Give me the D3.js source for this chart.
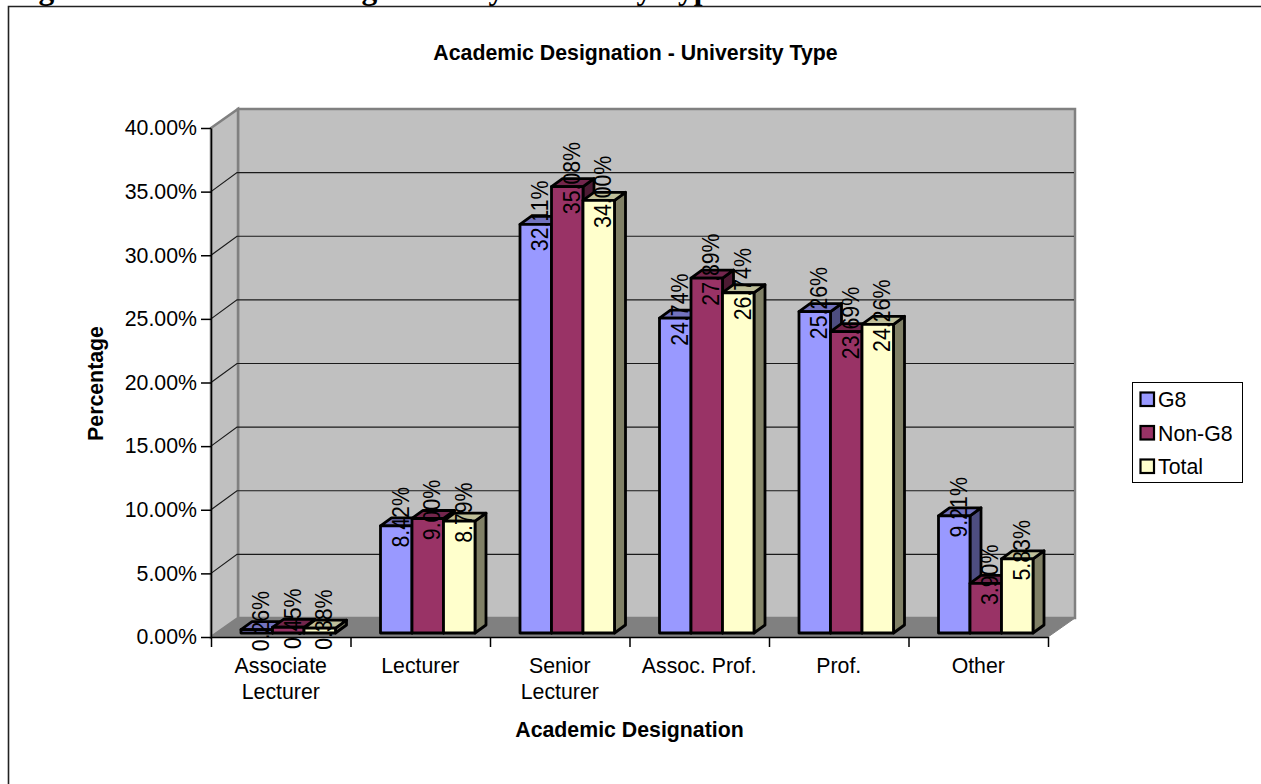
<!DOCTYPE html>
<html>
  <head>
    <title></title>
    <meta charset="UTF-8" />
    <script src="https://cdn.jsdelivr.net/npm/d3@7"></script>
    <style>
      html, body { margin: 0; background: #fff; overflow: hidden; }
      svg { display: block; }
    </style>
  </head>
  <body>
    <svg></svg>
    <script>
      // 1. data
      const categories = ['Associate Lecturer', 'Lecturer', 'Senior Lecturer', 'Assoc. Prof.', 'Prof.', 'Other']
      const series = ['G8', 'Non-G8', 'Total']
      const g8 = [0.26, 8.42, 32.11, 24.74, 25.26, 9.21]
      const nonG8 = [0.45, 9.0, 35.08, 27.89, 23.69, 3.9]
      const total = [0.38, 8.79, 34.0, 26.74, 24.26, 5.83]
      const yTicks = [0, 5, 10, 15, 20, 25, 30, 35, 40]
      const colors = ['#9999ff', '#993366', '#ffffcc']

      // 2. layout
      const width = 1261
      const height = 784
      const plotLeft = 211
      const plotRight = 1048
      const plotTop = 128
      const plotBottom = 637
      const wall = { dx: 27, dy: -19 } // depth of the chart box
      const bar = { dx: 11, dy: -8, inset: 30, group: 94.5, lift: 4 }
      const font = '"Liberation Sans", Arial, sans-serif'
      const fontSize = 21.3

      const svg = d3
        .select('svg')
        .attr('width', width)
        .attr('height', height)
        .attr('viewBox', [0, 0, width, height])
        .style('font-family', font)

      const x = d3.scaleBand(categories, [plotLeft, plotRight])
      const xEdge = d3.scaleLinear([0, categories.length], [plotLeft, plotRight])
      const xBar = d3.scaleBand(series, [0, bar.group])
      const y = d3.scaleLinear([0, 40], [plotBottom, plotTop])
      const line = d3.line()
      const poly = (pts) => line(pts) + 'Z'

      // 3. page furniture: cut-off caption above the chart + chart frame
      // only the descenders show in the reference, the figure number is a guess
      svg
        .append('text')
        .attr('x', 10.5)
        .attr('y', -1.5)
        .attr('font-family', '"Liberation Serif", "Times New Roman", serif')
        .attr('font-weight', 'bold')
        .attr('font-size', 31.5)
        .text('Figure 5.1: Academic Designation by University Type')

      svg
        .append('path')
        .attr('d', `M${width},6.5H8.5V${height}`)
        .attr('fill', 'none')
        .attr('stroke', '#222')
        .attr('stroke-width', 1.6)

      // 4. walls + floor
      const box = svg.append('g')
      box
        .append('path') // back wall
        .attr('d', poly([
          [plotLeft + wall.dx, plotTop + wall.dy],
          [plotRight + wall.dx, plotTop + wall.dy],
          [plotRight + wall.dx, plotBottom + wall.dy],
          [plotLeft + wall.dx, plotBottom + wall.dy],
        ]))
        .attr('fill', '#c0c0c0')
        .attr('stroke', '#808080')
        .attr('stroke-width', 2.5)
      box
        .append('path') // side wall
        .attr('d', poly([
          [plotLeft, plotTop],
          [plotLeft + wall.dx, plotTop + wall.dy],
          [plotLeft + wall.dx, plotBottom + wall.dy],
          [plotLeft, plotBottom],
        ]))
        .attr('fill', '#c0c0c0')
        .attr('stroke', '#808080')
        .attr('stroke-width', 2.5)
      box
        .append('path') // floor
        .attr('d', poly([
          [plotLeft, plotBottom],
          [plotLeft + wall.dx, plotBottom + wall.dy],
          [plotRight + wall.dx, plotBottom + wall.dy],
          [plotRight, plotBottom],
        ]))
        .attr('fill', '#808080')
        .attr('stroke', '#808080')

      // gridlines run along the side wall then the back wall
      box
        .append('g')
        .selectAll('path')
        .data(yTicks.filter((d) => d > 0 && d < 40))
        .join('path')
        .attr('d', (d) => line([
          [plotLeft, y(d)],
          [plotLeft + wall.dx - 1, y(d) + wall.dy],
          [plotRight + wall.dx - 1, y(d) + wall.dy],
        ]))
        .attr('fill', 'none')
        .attr('stroke', '#1a1a1a')
        .attr('stroke-width', 1.2)

      // 5. axes
      const yAxis = svg
        .append('g')
        .attr('transform', `translate(${plotLeft},0)`)
        .call(
          d3.axisLeft(y)
            .tickValues(yTicks)
            .tickSize(10)
            .tickPadding(4)
            .tickSizeOuter(0)
            .tickFormat((d) => d3.format('.2f')(d) + '%')
        )
      yAxis.selectAll('text').attr('font-size', fontSize).attr('font-family', font).attr('fill', '#000')
      yAxis.selectAll('line, path').attr('stroke', '#000').attr('stroke-width', 1.5)

      const xAxis = svg
        .append('g')
        .attr('transform', `translate(0,${plotBottom})`)
        .call(
          d3.axisBottom(xEdge)
            .ticks(categories.length)
            .tickSize(10)
            .tickSizeOuter(0)
            .tickFormat('')
        )
      xAxis.selectAll('line, path').attr('stroke', '#000').attr('stroke-width', 1.5)

      const catLines = { 'Associate Lecturer': ['Associate', 'Lecturer'], 'Senior Lecturer': ['Senior', 'Lecturer'] }
      svg
        .append('g')
        .attr('font-size', fontSize)
        .attr('text-anchor', 'middle')
        .selectAll('text')
        .data(categories)
        .join('text')
        .attr('transform', (d) => `translate(${x(d) + x.bandwidth() / 2},673)`)
        .selectAll('tspan')
        .data((d) => catLines[d] || [d])
        .join('tspan')
        .attr('x', 0)
        .attr('y', (d, i) => i * 25.5)
        .text((d) => d)

      // 6. bars
      const shade = (c, k) => {
        const { r, g, b } = d3.rgb(c)
        return d3.rgb(r * k, g * k, b * k).formatHex()
      }
      const rows = categories.map((c, i) =>
        [g8, nonG8, total].map((vals, s) => ({ cat: c, name: series[s], value: vals[i], color: colors[s] }))
      )
      const barX = (d) => x(d.cat) + bar.inset + xBar(d.name)
      const base = plotBottom - bar.lift
      const barTop = (d) => y(d.value) - bar.lift
      const w = xBar.bandwidth()

      const bars = svg
        .append('g')
        .selectAll('g')
        .data(rows.flat())
        .join('g')
        .attr('stroke', '#000')
        .attr('stroke-width', 2.8)
        .attr('stroke-linejoin', 'round')

      bars
        .append('path') // side face
        .attr('fill', (d) => shade(d.color, 0.5))
        .attr('d', (d) => poly([
          [barX(d) + w, barTop(d)],
          [barX(d) + w + bar.dx, barTop(d) + bar.dy],
          [barX(d) + w + bar.dx, base + bar.dy],
          [barX(d) + w, base],
        ]))
      bars
        .append('path') // top face
        .attr('fill', (d) => shade(d.color, 0.75))
        .attr('d', (d) => poly([
          [barX(d), barTop(d)],
          [barX(d) + bar.dx, barTop(d) + bar.dy],
          [barX(d) + w + bar.dx, barTop(d) + bar.dy],
          [barX(d) + w, barTop(d)],
        ]))
      bars
        .append('path') // front face
        .attr('fill', (d) => d.color)
        .attr('d', (d) => poly([
          [barX(d), barTop(d)],
          [barX(d) + w, barTop(d)],
          [barX(d) + w, base],
          [barX(d), base],
        ]))

      // 7. value labels, rotated, centred on the bar top (a bit taller than the axis text)
      svg
        .append('g')
        .attr('font-size', fontSize)
        .attr('text-anchor', 'middle')
        .selectAll('text')
        .data(rows.flat())
        .join('text')
        .attr('transform', (d) => `translate(${barX(d) + w / 2 + 12.6},${barTop(d) - 8.5}) rotate(-90) scale(1,1.1)`)
        .text((d) => d3.format('.2f')(d.value) + '%')

      // 8. titles
      svg
        .append('text')
        .attr('x', 635.5)
        .attr('y', 60)
        .attr('text-anchor', 'middle')
        .attr('font-size', fontSize)
        .attr('font-weight', 'bold')
        .text('Academic Designation - University Type')
      svg
        .append('text')
        .attr('x', 629.5)
        .attr('y', 737)
        .attr('text-anchor', 'middle')
        .attr('font-size', fontSize)
        .attr('font-weight', 'bold')
        .text('Academic Designation')
      svg
        .append('text')
        .attr('transform', 'translate(103,383.5) rotate(-90)')
        .attr('text-anchor', 'middle')
        .attr('font-size', fontSize)
        .attr('font-weight', 'bold')
        .text('Percentage')

      // 9. legend
      const legend = svg.append('g')
      legend
        .append('rect')
        .attr('x', 1132.5)
        .attr('y', 382.5)
        .attr('width', 110)
        .attr('height', 100)
        .attr('fill', '#fff')
        .attr('stroke', '#000')
      const legendY = d3.scalePoint(series, [399.5, 466.5])
      const item = legend.selectAll('g').data(series).join('g')
      item
        .append('rect')
        .attr('x', 1140.5)
        .attr('y', (d) => legendY(d) - 7)
        .attr('width', 13.5)
        .attr('height', 13.5)
        .attr('fill', (d, i) => colors[i])
        .attr('stroke', '#000')
        .attr('stroke-width', 2.2)
      item
        .append('text')
        .attr('x', 1158)
        .attr('y', (d) => legendY(d) + 7.5)
        .attr('font-size', fontSize)
        .text((d) => d)
    </script>
  </body>
</html>
